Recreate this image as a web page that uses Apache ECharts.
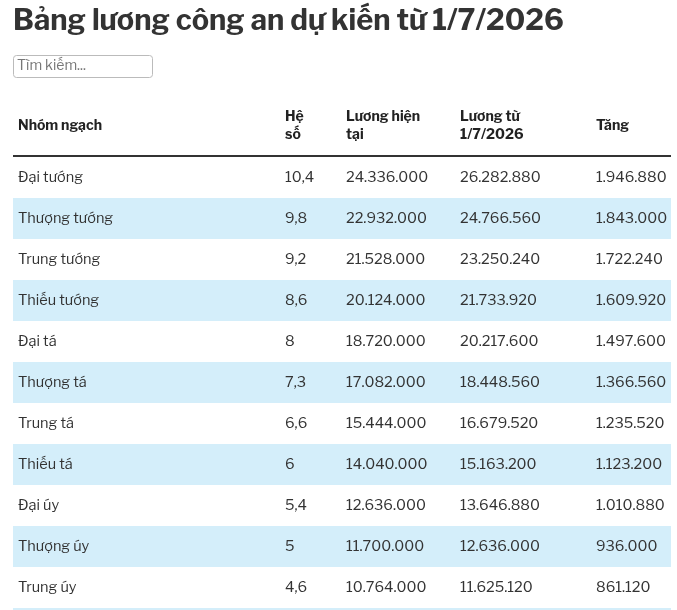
<!DOCTYPE html>
<html><head><meta charset="utf-8">
<script src="https://cdn.jsdelivr.net/npm/echarts@6/dist/echarts.min.js"></script>
<style>html,body{margin:0;padding:0;background:#fff}#c{width:677px;height:610px}</style>
</head><body><div id="c"></div>
<script>
const ranks = ["Đại tướng","Thượng tướng","Trung tướng","Thiếu tướng","Đại tá","Thượng tá","Trung tá","Thiếu tá","Đại úy","Thượng úy","Trung úy","Thiếu úy"];
const coefs = [10.4,9.8,9.2,8.6,8,7.3,6.6,6,5.4,5,4.6,4.2];
const current = [24336000,22932000,21528000,20124000,18720000,17082000,15444000,14040000,12636000,11700000,10764000,9828000];
const future = [26282880,24766560,23250240,21733920,20217600,18448560,16679520,15163200,13646880,12636000,11625120,10614240];
const increase = [1946880,1843000,1722240,1609920,1497600,1366560,1235520,1123200,1010880,936000,861120,786240];
const headers = ["Nhóm ngạch","Hệ\nsố","Lương hiện\ntại","Lương từ\n1/7/2026","Tăng"];

const colX = [5,272,333,447,583];
const fmtN = v => String(v).replace(/\B(?=(\d{3})+(?!\d))/g,'.');
const fmtC = v => String(v).replace('.',',');
const FONT = '"Libre Franklin","Open Sans",sans-serif';
const data = ranks.map((r,i)=>[i, r, coefs[i], current[i], future[i], increase[i]]);

const chart = echarts.init(document.getElementById('c'));
const graphics = [
  {type:'text', left:13, top:7, style:{text:'Bảng lương công an dự kiến từ 1/7/2026', font:'bold 29px '+FONT, fill:'#333'}},
  {type:'rect', left:13, top:55, shape:{width:139,height:22,r:3}, style:{fill:'#fff',stroke:'#bbb',lineWidth:1}},
  {type:'text', left:17, top:59, style:{text:'Tìm kiếm...', font:'14px '+FONT, fill:'#777'}},
  {type:'rect', left:13, top:155, shape:{width:658,height:2}, style:{fill:'#333'}}
];
headers.forEach((h,i)=>{
  const lines = h.split('\n').length;
  graphics.push({type:'text', left:13+colX[i], top: lines===1 ? 117 : 108,
    style:{text:h, font:'bold 14px '+FONT, fill:'#222', lineHeight:18}});
});

chart.setOption({
  animation:false,
  grid:{left:13, right:6, top:157, height:451},
  xAxis:{type:'value', min:0, max:658, show:false},
  yAxis:{type:'value', min:0, max:11, inverse:true, show:false},
  graphic: graphics,
  series:[{
    type:'custom',
    clip:false,
    data: data,
    encode:{x:0, y:0},
    renderItem:(params, api)=>{
      const i = params.dataIndex;
      const c = api.coord([0, i+0.5]);
      const h = api.size([0,1])[1];
      const w = api.size([658,0])[0];
      const top = c[1]-h/2;
      const children = [];
      if (i%2===1) children.push({type:'rect', shape:{x:c[0], y:top, width:w, height:h}, style:{fill:'#d4eefa'}});
      const vals = [ranks[i], fmtC(coefs[i]), fmtN(current[i]), fmtN(future[i]), fmtN(increase[i])];
      vals.forEach((t,k)=>{
        children.push({type:'text', x:c[0]+colX[k], y:c[1],
          style:{text:t, font:'14.5px '+FONT, fill:'#333', verticalAlign:'middle'}});
      });
      return {type:'group', children};
    }
  }]
});
</script></body></html>
